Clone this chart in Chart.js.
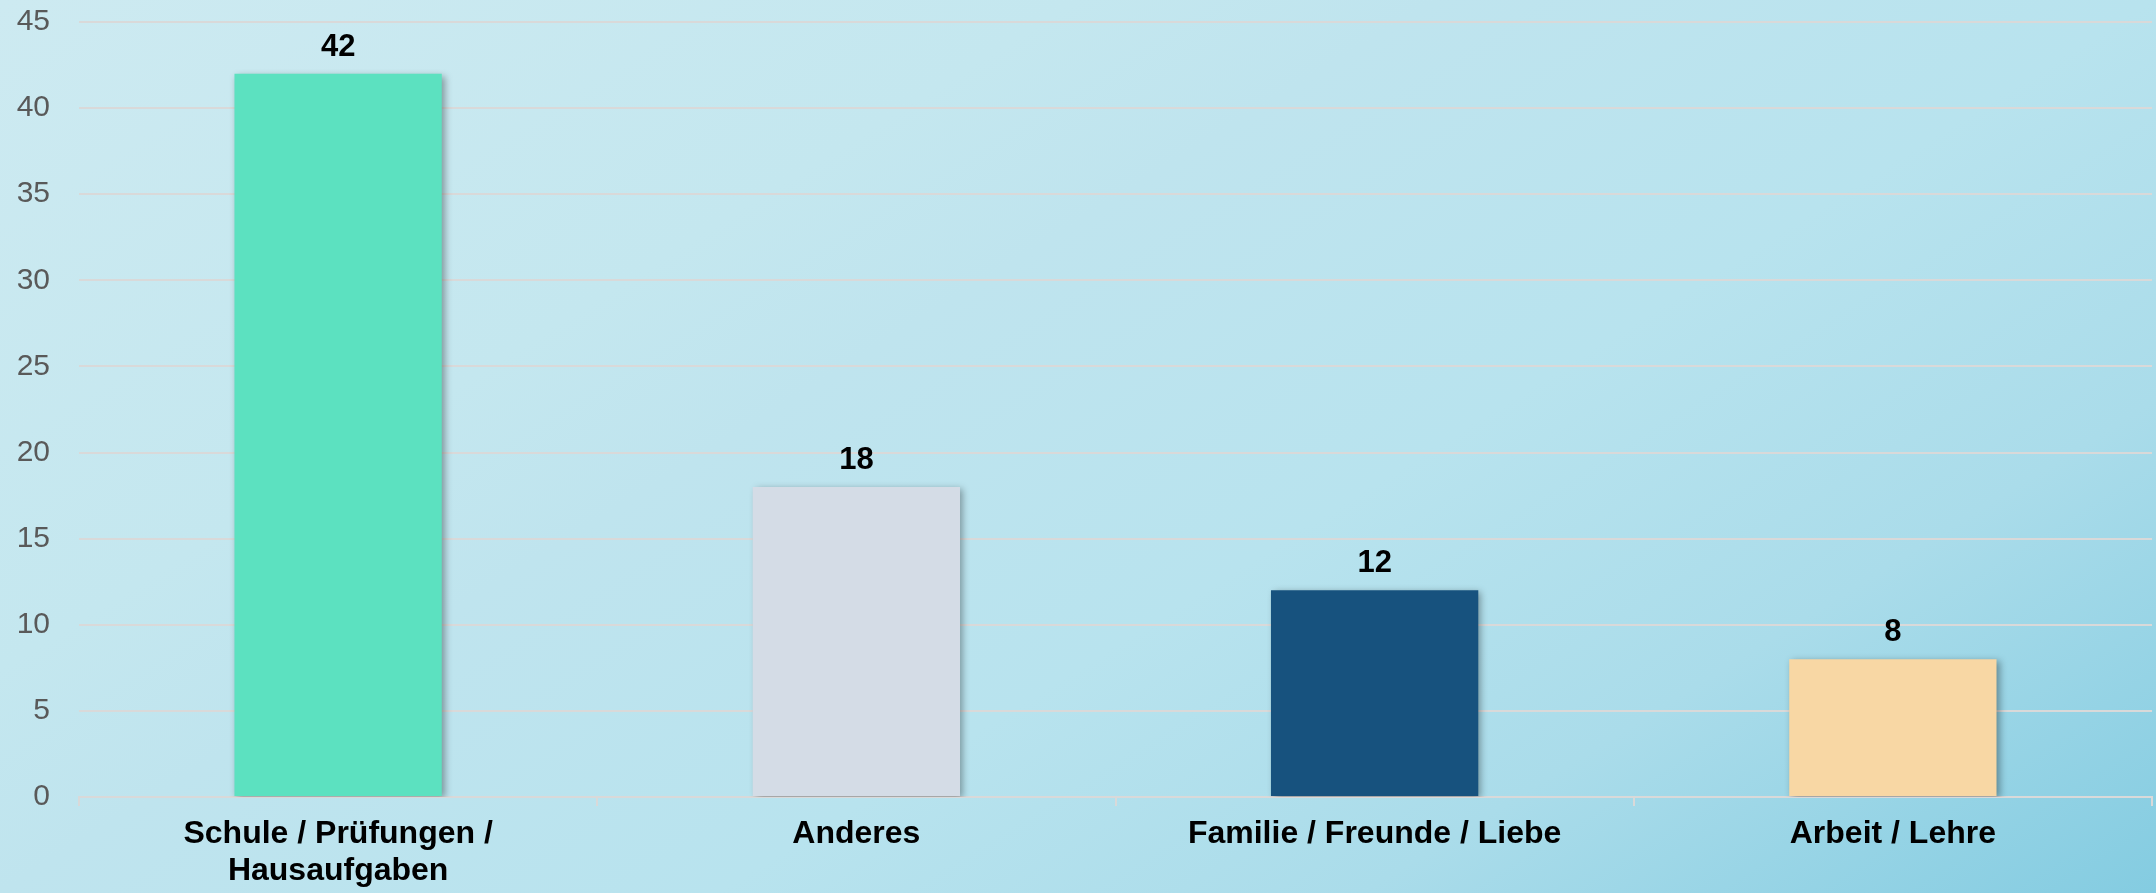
<!DOCTYPE html>
<html>
<head>
<meta charset="utf-8">
<script src="https://cdn.jsdelivr.net/npm/chart.js@4/dist/chart.umd.min.js"></script>
<style>
    html, body { margin: 0; padding: 0; overflow: hidden; }
    canvas { display: block; }
</style>
</head>
<body>
<canvas id="myChart" width="2156" height="893"></canvas>
<script>
const categories = [
    ["Schule / Prüfungen /", "Hausaufgaben"],
    "Anderes",
    "Familie / Freunde / Liebe",
    "Arbeit / Lehre"
];
const values = [42, 18, 12, 8];
const barColors = ["#5ce1c0", "#d4dce6", "#17527e", "#f8d7a4"];

const yMin = 0;
const yMax = 45;
const yStep = 5;

const fontFamily = "'Liberation Sans', Arial, sans-serif";
const gridGray = "#d9d9d9";

// page background, lighter top-left, darker bottom-right
const backgroundPlugin = {
    id: 'backgroundPlugin',
    beforeDraw(chart) {
        const ctx = chart.ctx;
        const g = ctx.createLinearGradient(0, 0, 1000, 1609);
        g.addColorStop(0, "#cdeaf1");
        g.addColorStop(0.3, "#c4e7ef");
        g.addColorStop(0.4, "#bfe4ee");
        g.addColorStop(0.6, "#b8e3ee");
        g.addColorStop(0.78, "#aadcea");
        g.addColorStop(1, "#84cce1");
        ctx.save();
        ctx.fillStyle = g;
        ctx.fillRect(0, 0, chart.width, chart.height);
        ctx.restore();
    }
};

// soft shadow behind the bars
const shadowPlugin = {
    id: 'shadowPlugin',
    beforeDatasetDraw(chart) {
        const ctx = chart.ctx;
        ctx.save();
        ctx.shadowColor = "rgba(0, 0, 0, 0.35)";
        ctx.shadowBlur = 7;
        ctx.shadowOffsetX = 3;
        ctx.shadowOffsetY = 2;
    },
    afterDatasetDraw(chart) {
        chart.ctx.restore();
    }
};

// value above each bar
const valueLabels = {
    id: 'valueLabels',
    afterDatasetsDraw(chart) {
        const ctx = chart.ctx;
        const meta = chart.getDatasetMeta(0);
        ctx.save();
        ctx.font = "bold 31px " + fontFamily;
        ctx.fillStyle = "#000000";
        ctx.textAlign = "center";
        ctx.textBaseline = "alphabetic";
        meta.data.forEach((bar, i) => {
            ctx.fillText(String(values[i]), bar.x, bar.y - 18);
        });
        ctx.restore();
    }
};

new Chart(document.getElementById('myChart'), {
    type: 'bar',
    plugins: [backgroundPlugin, shadowPlugin, valueLabels],
    data: {
        labels: categories,
        datasets: [{
            data: values,
            backgroundColor: barColors,
            borderWidth: 0,
            barPercentage: 0.4,
            categoryPercentage: 1
        }]
    },
    options: {
        responsive: false,
        animation: false,
        layout: {
            padding: { left: 0, right: 4, top: 22, bottom: 0 }
        },
        plugins: {
            legend: { display: false },
            tooltip: { enabled: false }
        },
        scales: {
            x: {
                afterFit: (scale) => {
                    scale.height = 96;
                    scale.paddingLeft = 0;
                    scale.paddingRight = 0;
                },
                grid: {
                    drawOnChartArea: false,
                    drawTicks: true,
                    tickLength: 9,
                    color: gridGray,
                    lineWidth: 2
                },
                border: { color: gridGray, width: 2 },
                ticks: {
                    padding: 10,
                    color: "#000000",
                    maxRotation: 0,
                    autoSkip: false,
                    font: { family: fontFamily, size: 32, weight: 'bold', lineHeight: 1.15 }
                }
            },
            y: {
                min: yMin,
                max: yMax,
                afterFit: (scale) => {
                    scale.width = 79;
                    scale.paddingTop = 0;
                    scale.paddingBottom = 0;
                },
                grid: {
                    color: gridGray,
                    lineWidth: 2,
                    drawTicks: false
                },
                border: { display: false },
                ticks: {
                    stepSize: yStep,
                    padding: 29,
                    color: "#595959",
                    font: { family: fontFamily, size: 30 }
                }
            }
        }
    }
});
</script>
</body>
</html>
